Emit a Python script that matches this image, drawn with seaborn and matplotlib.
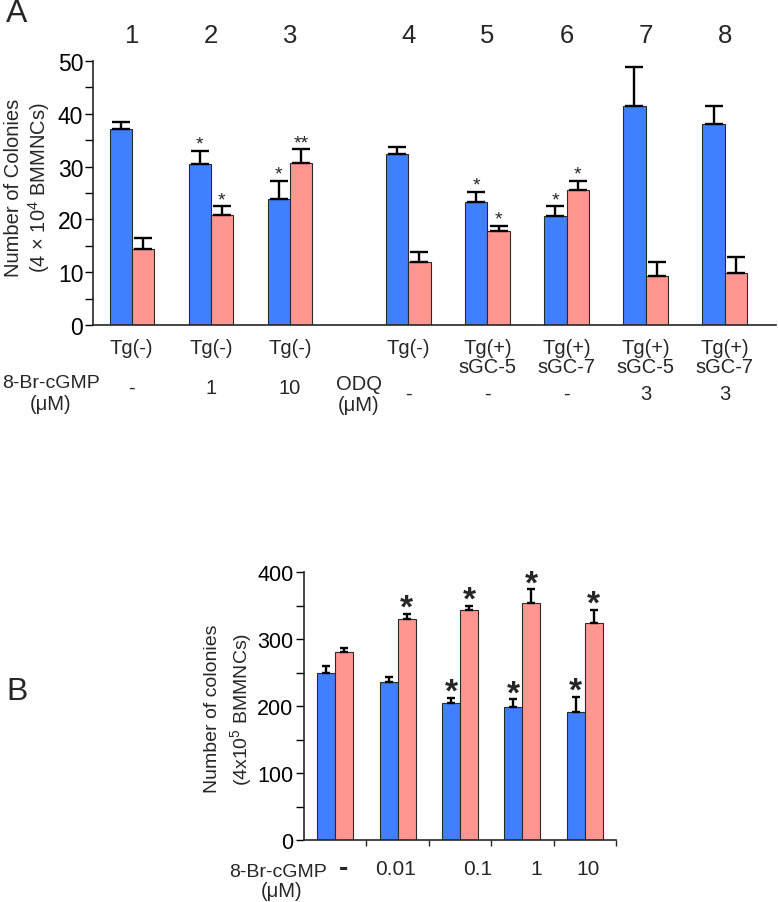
import numpy as np
import pandas as pd
import matplotlib
matplotlib.use("Agg")
import matplotlib.pyplot as plt
import matplotlib.transforms as mtrans
from matplotlib.ticker import MultipleLocator
import seaborn as sns

# ---------------- Panel A data ----------------
group_numbers_A = ["1", "2", "3", "4", "5", "6", "7", "8"]
tg_labels_A = ["Tg(-)", "Tg(-)", "Tg(-)", "Tg(-)", "Tg(+)\nsGC-5", "Tg(+)\nsGC-7",
               "Tg(+)\nsGC-5", "Tg(+)\nsGC-7"]
cgmp_doses_A = ["-", "1", "10"]
odq_doses_A = ["-", "-", "-", "3", "3"]
blue_A = [37.1, 30.5, 23.9, 32.4, 23.3, 20.6, 41.5, 38.1]
blue_A_err = [1.3, 2.5, 3.4, 1.3, 1.9, 1.9, 7.4, 3.4]
pink_A = [14.4, 20.8, 30.7, 11.9, 17.8, 25.6, 9.3, 9.8]
pink_A_err = [2.1, 1.7, 2.6, 1.9, 1.0, 1.7, 2.6, 3.0]
blue_A_sig = ["", "*", "*", "", "*", "*", "", ""]
pink_A_sig = ["", "*", "**", "", "*", "*", "", ""]

# ---------------- Panel B data ----------------
doses_B = ["-", "0.01", "0.1", "1", "10"]
blue_B = [250, 236, 204, 198, 191]
blue_B_err = [9, 7, 8, 12, 23]
pink_B = [280, 330, 344, 353, 324]
pink_B_err = [7, 7, 6, 21, 20]
blue_B_sig = ["", "", "*", "*", "*"]
pink_B_sig = ["", "*", "*", "*", "*"]

series = ["Series 1", "Series 2"]
BLUE = "#4080FF"
PINK = "#FF968F"
EDGE = "#2a2a2a"

sns.set_theme(style="ticks")
plt.rcParams["font.family"] = ["Liberation Sans", "DejaVu Sans"]
plt.rcParams["mathtext.default"] = "regular"
plt.rcParams["axes.linewidth"] = 1.2

fig = plt.figure(figsize=(7.78, 9.03), dpi=100)
W, H = 778.0, 903.0

def fx(px):
    return px / W

def fy(py):
    return 1 - py / H

LBL = 14.5

# ================= Panel A =================
axA = fig.add_axes([fx(93), fy(326), fx(776) - fx(93), fy(62) - fy(326)])
pos_A = [i + (0.5 if i >= 3 else 0.0) for i in range(len(group_numbers_A))]
dfA = pd.DataFrame({
    "pos": pos_A * 2,
    "value": blue_A + pink_A,
    "series": [series[0]] * len(blue_A) + [series[1]] * len(pink_A),
})
sns.barplot(data=dfA, x="pos", y="value", hue="series", native_scale=True,
            width=0.56, palette=[BLUE, PINK], saturation=1, edgecolor=EDGE,
            linewidth=0.8, errorbar=None, legend=False, ax=axA)

for cont, errs, sigs in zip(axA.containers, [blue_A_err, pink_A_err],
                            [blue_A_sig, pink_A_sig]):
    xs = [p.get_x() + p.get_width() / 2 for p in cont]
    hs = [p.get_height() for p in cont]
    axA.errorbar(xs, hs, yerr=[np.zeros(len(errs)), errs], fmt="none",
                 ecolor="black", elinewidth=1.7, capsize=6.5, capthick=1.7,
                 zorder=3)
    for x, h, e, s in zip(xs, hs, errs, sigs):
        if s:
            axA.annotate(s, xy=(x, h + e), xytext=(0, 1.5), textcoords="offset points",
                         ha="center", va="baseline", fontsize=14)

axA.set_xlim(-0.49, 8.15)
axA.set_ylim(0, 50)
axA.yaxis.set_major_locator(MultipleLocator(10))
axA.yaxis.set_minor_locator(MultipleLocator(5))
axA.tick_params(axis="y", which="both", direction="out", length=6, width=1.0,
                labelsize=16.5, pad=1, colors="black")
axA.set_xticks(pos_A)
axA.set_xticklabels(tg_labels_A, fontsize=LBL, linespacing=1.05)
axA.tick_params(axis="x", length=0, pad=9)
axA.set_xlabel("")
axA.set_ylabel("")
fig.text(fx(28), fy(188), "Number of Colonies\n(4 × 10$^4$ BMMNCs)", rotation=90,
         ha="center", va="center", multialignment="center", fontsize=LBL,
         linespacing=1.15)
sns.despine(ax=axA)

blendA = mtrans.blended_transform_factory(axA.transData, fig.transFigure)
for p, n in zip(pos_A, group_numbers_A):
    axA.text(p, fy(43), n, transform=blendA, ha="center", va="baseline", fontsize=18.5)
for p, d in zip(pos_A[:3], cgmp_doses_A):
    axA.text(p, fy(394), d, transform=blendA, ha="center", va="baseline", fontsize=LBL)
for p, d in zip(pos_A[3:], odq_doses_A):
    axA.text(p, fy(400), d, transform=blendA, ha="center", va="baseline", fontsize=LBL)

fig.text(fx(51), fy(388), "8-Br-cGMP", ha="center", va="baseline", fontsize=14)
fig.text(fx(51), fy(410), "(μM)", ha="center", va="baseline", fontsize=LBL)
fig.text(fx(359), fy(390), "ODQ", ha="center", va="baseline", fontsize=LBL)
fig.text(fx(359), fy(411), "(μM)", ha="center", va="baseline", fontsize=LBL)
fig.text(fx(6), fy(22), "A", ha="left", va="baseline", fontsize=23)

# ================= Panel B =================
axB = fig.add_axes([fx(304), fy(841), fx(616) - fx(304), fy(573) - fy(841)])
dfB = pd.DataFrame({
    "dose": doses_B * 2,
    "value": blue_B + pink_B,
    "series": [series[0]] * len(blue_B) + [series[1]] * len(pink_B),
})
sns.barplot(data=dfB, x="dose", y="value", hue="series", order=doses_B,
            width=0.58, palette=[BLUE, PINK], saturation=1, edgecolor=EDGE,
            linewidth=0.8, errorbar=None, legend=False, ax=axB)

for cont, errs, sigs in zip(axB.containers, [blue_B_err, pink_B_err],
                            [blue_B_sig, pink_B_sig]):
    xs = [p.get_x() + p.get_width() / 2 for p in cont]
    hs = [p.get_height() for p in cont]
    axB.errorbar(xs, hs, yerr=[np.zeros(len(errs)), errs], fmt="none",
                 ecolor="black", elinewidth=1.7, capsize=3, capthick=1.7,
                 zorder=3)
    for x, h, e, s in zip(xs, hs, errs, sigs):
        if s:
            axB.annotate(s, xy=(x, h + e), xytext=(0, -2), textcoords="offset points",
                         ha="center", va="baseline", fontsize=24, fontweight="bold")

axB.set_xlim(-0.5, 4.5)
axB.set_ylim(0, 400)
axB.yaxis.set_major_locator(MultipleLocator(100))
axB.yaxis.set_minor_locator(MultipleLocator(50))
axB.tick_params(axis="y", which="both", direction="out", length=6, width=1.0,
                labelsize=15.5, pad=1.5, colors="black")
axB.set_xticks([0.5, 1.5, 2.5, 3.5, 4.5])
axB.set_xticklabels([])
axB.tick_params(axis="x", direction="out", length=4, width=1.0)
axB.set_xlabel("")
axB.set_ylabel("")
fig.text(fx(229), fy(709), "Number of colonies\n(4x10$^5$ BMMNCs)", rotation=90,
         ha="center", va="center", multialignment="center", fontsize=14,
         linespacing=1.35)
sns.despine(ax=axB)

blendB = mtrans.blended_transform_factory(axB.transData, fig.transFigure)
label_shift_B = [0.13, -0.04, 0.29, 0.22, 0.06]
for i, (d, sh) in enumerate(zip(doses_B, label_shift_B)):
    if d == "-":
        axB.text(i + sh, fy(876), "-", transform=blendB, ha="center", va="baseline",
                 fontsize=20, fontweight="bold")
    else:
        axB.text(i + sh, fy(875), d, transform=blendB, ha="center", va="baseline",
                 fontsize=15)

fig.text(fx(278), fy(877), "8-Br-cGMP", ha="center", va="baseline", fontsize=14)
fig.text(fx(282), fy(897), "(μM)", ha="center", va="baseline", fontsize=LBL)
fig.text(fx(6), fy(700), "B", ha="left", va="baseline", fontsize=23)

fig.savefig("out.png", dpi=100)
